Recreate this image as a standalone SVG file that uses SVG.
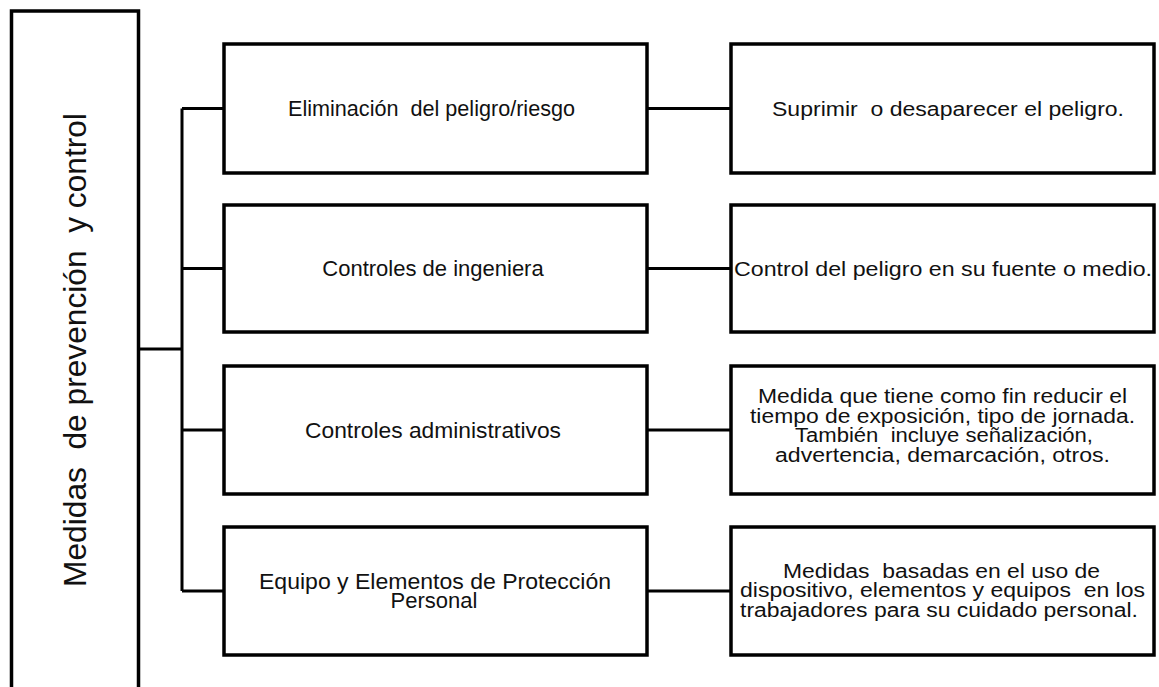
<svg xmlns="http://www.w3.org/2000/svg" width="1159" height="687" viewBox="0 0 1159 687">
<style>
.box{fill:#fff;stroke:#000;stroke-width:3.5}
.c{fill:none;stroke:#000;stroke-width:3}
text{white-space:pre;font-family:"Liberation Sans",Arial,sans-serif;fill:#111;text-anchor:middle}
.t{font-size:22px}
.p{font-size:20px}
.big{font-size:31.7px}
</style>
<rect width="1159" height="687" fill="#fff"/>
<g id="connectors">
<path class="c" d="M139,349 H182 M182,108.5 V591 M182,108.5 H224 M182,268.5 H224 M182,430 H224 M182,591 H224"/>
<path class="c" d="M647,108.5 H731 M647,268.5 H731 M647,430 H731 M647,591 H731"/>
</g>
<g id="root">
<rect class="box" x="11.5" y="11" width="127" height="700"/>
<text class="big" transform="translate(85.5,350) rotate(-90)">Medidas  de prevención  y control</text>
</g>
<g id="n1">
<rect class="box" x="224" y="44" width="423" height="129"/>
<text class="t" x="431.5" y="116" textLength="287" lengthAdjust="spacingAndGlyphs">Eliminación  del peligro/riesgo</text>
</g>
<g id="n2">
<rect class="box" x="224" y="205" width="423" height="127"/>
<text class="t" x="433" y="276">Controles de ingeniera</text>
</g>
<g id="n3">
<rect class="box" x="224" y="366" width="423" height="128"/>
<text class="t" x="433" y="438" textLength="256" lengthAdjust="spacingAndGlyphs">Controles administrativos</text>
</g>
<g id="n4">
<rect class="box" x="224" y="527" width="423" height="128"/>
<text class="t" x="435" y="589" textLength="352" lengthAdjust="spacingAndGlyphs">Equipo y Elementos de Protección</text>
<text class="t" x="434" y="608">Personal</text>
</g>
<g id="d1">
<rect class="box" x="731" y="44" width="423" height="129"/>
<text class="p" x="948" y="116" textLength="352" lengthAdjust="spacingAndGlyphs">Suprimir  o desaparecer el peligro.</text>
</g>
<g id="d2">
<rect class="box" x="731" y="205" width="423" height="127"/>
<text class="p" x="943" y="276" textLength="418" lengthAdjust="spacingAndGlyphs">Control del peligro en su fuente o medio.</text>
</g>
<g id="d3">
<rect class="box" x="731" y="366" width="423" height="128"/>
<text class="p" x="942.5" y="403" textLength="369" lengthAdjust="spacingAndGlyphs">Medida que tiene como fin reducir el</text>
<text class="p" x="942.5" y="422.5" textLength="385" lengthAdjust="spacingAndGlyphs">tiempo de exposición, tipo de jornada.</text>
<text class="p" x="944" y="442" textLength="298" lengthAdjust="spacingAndGlyphs">También  incluye señalización,</text>
<text class="p" x="942.5" y="461.5" textLength="335" lengthAdjust="spacingAndGlyphs">advertencia, demarcación, otros.</text>
</g>
<g id="d4">
<rect class="box" x="731" y="527" width="423" height="128"/>
<text class="p" x="941.5" y="577.5" textLength="317" lengthAdjust="spacingAndGlyphs">Medidas  basadas en el uso de</text>
<text class="p" x="942.5" y="597" textLength="405" lengthAdjust="spacingAndGlyphs">dispositivo, elementos y equipos  en los</text>
<text class="p" x="939" y="616.5" textLength="398" lengthAdjust="spacingAndGlyphs">trabajadores para su cuidado personal.</text>
</g>
</svg>
